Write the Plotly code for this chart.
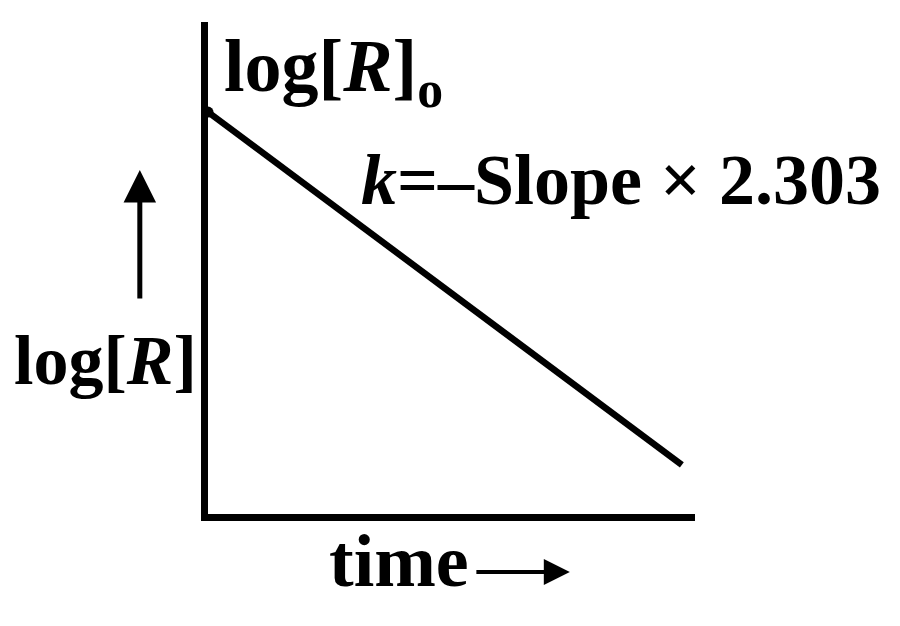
import plotly.graph_objects as go

# first-order kinetics: log[R] falls linearly with time
time = [0, 9.73]
log_r = [8.17, 1.0]

x_max = 10
y_max = 10

FONT = "Liberation Serif"

fig = go.Figure()
fig.add_trace(go.Scatter(
    x=time, y=log_r, mode="lines",
    line=dict(color="black", width=6.5),
    hoverinfo="skip",
))
# small blob where the line meets the y axis
fig.add_trace(go.Scatter(
    x=time[:1], y=log_r[:1], mode="markers",
    marker=dict(color="black", size=11),
    hoverinfo="skip",
))

axis_style = dict(showline=True, linecolor="black", linewidth=7,
                  showgrid=False, zeroline=False, showticklabels=False,
                  ticks="", fixedrange=True)
fig.update_xaxes(range=[0, x_max], **axis_style)
fig.update_yaxes(range=[0, y_max], **axis_style)

txt = dict(family=FONT, color="black", size=74, weight="bold")
fig.add_annotation(text="log[<i>R</i>]<sub>o</sub>", x=0.029, y=0.90,
                   xref="paper", yref="paper", xanchor="left", yanchor="middle",
                   showarrow=False, font=txt)
fig.add_annotation(text="<i>k</i>=\u2013Slope \u00d7 2.303", x=0.31, y=0.679,
                   xref="paper", yref="paper", xanchor="left", yanchor="middle",
                   showarrow=False, font=dict(txt, size=72))
fig.add_annotation(text="log[<i>R</i>]", x=-0.02, y=0.313,
                   xref="paper", yref="paper", xanchor="right", yanchor="middle",
                   showarrow=False, font=dict(txt, size=70), borderpad=0)
fig.add_annotation(text="time", x=0.54, y=-0.095,
                   xref="paper", yref="paper", xanchor="right", yanchor="middle",
                   showarrow=False, font=txt)

# arrows next to the axis labels
fig.add_annotation(x=-0.140, y=0.699, ax=-0.140, ay=0.435,
                   xref="x domain", yref="y domain", axref="x domain", ayref="y domain",
                   text="", showarrow=True, arrowhead=2, arrowsize=1.3,
                   arrowwidth=5, arrowcolor="black")
fig.add_annotation(x=0.743, y=-0.118, ax=0.548, ay=-0.118,
                   xref="x domain", yref="y domain", axref="x domain", ayref="y domain",
                   text="", showarrow=True, arrowhead=2, arrowsize=1.3,
                   arrowwidth=4, arrowcolor="black")

fig.update_layout(
    width=900, height=626,
    margin=dict(l=200, r=213, t=14, b=120),
    paper_bgcolor="white", plot_bgcolor="white",
    showlegend=False,
)

fig.write_html("out.html")
